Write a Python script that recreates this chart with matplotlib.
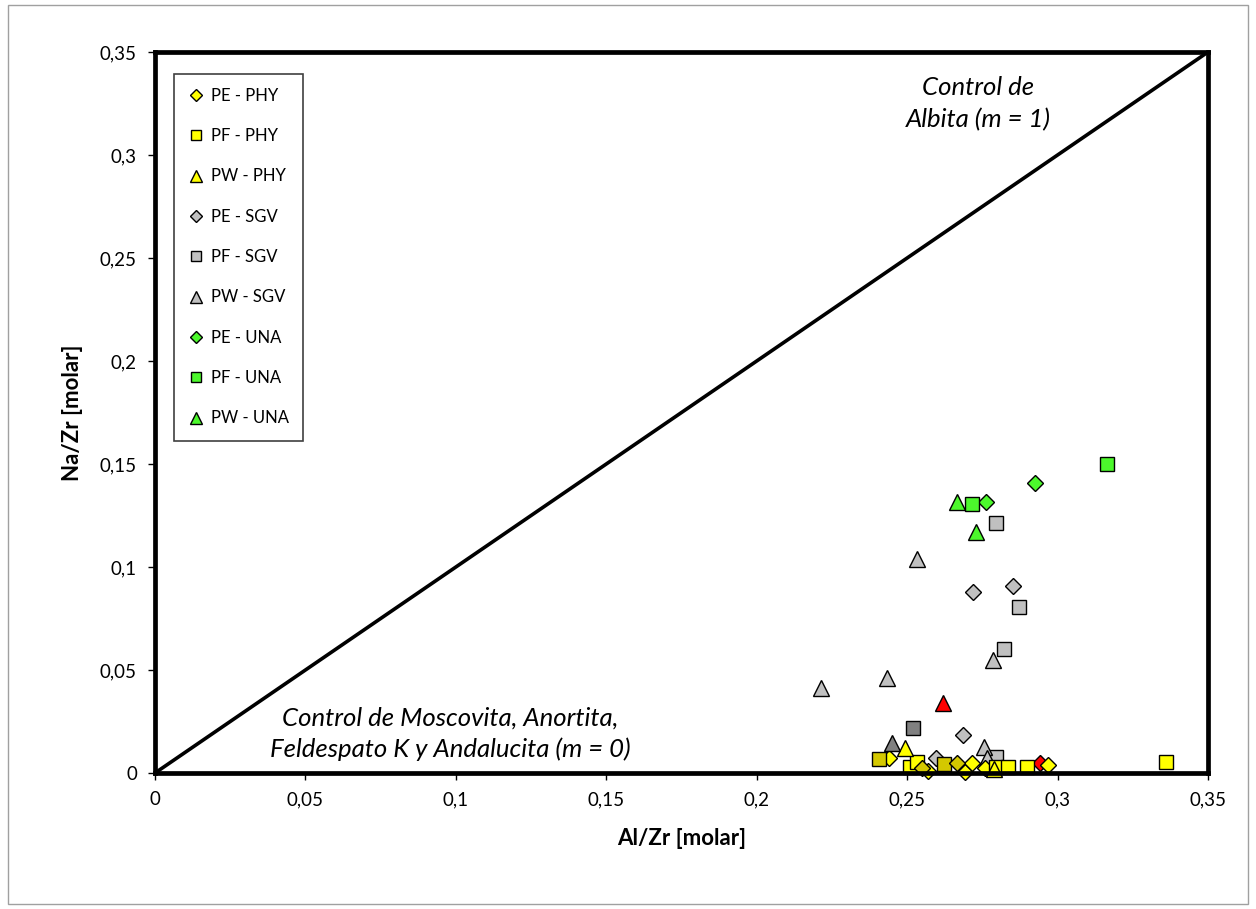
import matplotlib
matplotlib.use("Agg")
import matplotlib.pyplot as plt
from matplotlib.patches import Rectangle

plt.rcParams['font.family'] = ['Lato', 'DejaVu Sans']

# Series values (Al/Zr, Na/Zr), molar ratios
pe_phy_x = [0.2440, 0.2570, 0.2692, 0.2716, 0.2760, 0.2968]
pe_phy_y = [0.0073, 0.0010, 0.0005, 0.0049, 0.0024, 0.0039]
pf_phy_x = [0.2510, 0.2533, 0.2795, 0.2835, 0.2898, 0.3360]
pf_phy_y = [0.0030, 0.0053, 0.0030, 0.0030, 0.0030, 0.0055]
pw_phy_x = [0.2493, 0.2790]
pw_phy_y = [0.0121, 0.0020]

pe_sgv_x = [0.2719, 0.2852, 0.2686, 0.2596]
pe_sgv_y = [0.0880, 0.0910, 0.0184, 0.0073]
pf_sgv_x = [0.2795, 0.2872, 0.2822, 0.2795]
pf_sgv_y = [0.1214, 0.0806, 0.0602, 0.0078]
pw_sgv_x = [0.2533, 0.2785, 0.2433, 0.2214, 0.2756, 0.2765]
pw_sgv_y = [0.1039, 0.0549, 0.0461, 0.0413, 0.0126, 0.0073]

pe_una_x = [0.2925, 0.2762]
pe_una_y = [0.1408, 0.1316]
pf_una_x = [0.3164, 0.2716]
pf_una_y = [0.1500, 0.1306]
pw_una_x = [0.2666, 0.2729]
pw_una_y = [0.1316, 0.1170]

# extra points without legend entries
dk_phy_sq_x = [0.2407, 0.2622]
dk_phy_sq_y = [0.0068, 0.0044]
dk_phy_di_x = [0.2549, 0.2666]
dk_phy_di_y = [0.0024, 0.0049]
dk_sgv_sq_x = [0.2520]
dk_sgv_sq_y = [0.0218]
dk_sgv_tr_x = [0.2450]
dk_sgv_tr_y = [0.0146]
red_tr_x = [0.2619]
red_tr_y = [0.0340]
red_di_x = [0.2942]
red_di_y = [0.0049]

ticks = [0, 0.05, 0.1, 0.15, 0.2, 0.25, 0.3, 0.35]
tick_labels = ['0', '0,05', '0,1', '0,15', '0,2', '0,25', '0,3', '0,35']

YEL = '#FFFF00'
GRY = '#C0C0C0'
GRN = '#4CF82C'
DKY = '#D4C800'
DKG = '#808080'
RED = '#FF0000'

fig = plt.figure(figsize=(12.56, 9.09), dpi=100)
fig.patches.append(Rectangle((0.006, 0.005), 0.988, 0.99, transform=fig.transFigure,
                             fill=False, edgecolor='#A0A0A0', linewidth=1.0))
ax = fig.add_axes([0.1234, 0.1496, 0.8384, 0.7932])

# 1:1 line (albite control)
ax.plot([0, 0.35], [0, 0.35], color='black', linewidth=2.6, zorder=1)

styles = {'s': 10.5, 'D': 8.2, '^': 12}

def pts(x, y, m, c, label=None):
    return ax.plot(x, y, linestyle='none', marker=m, markersize=styles[m],
                   markerfacecolor=c, markeredgecolor='black', markeredgewidth=1.0,
                   clip_on=False, label=label, zorder=3)[0]

h = {}
h['PE - SGV'] = pts(pe_sgv_x, pe_sgv_y, 'D', GRY, 'PE - SGV')
h['PF - SGV'] = pts(pf_sgv_x, pf_sgv_y, 's', GRY, 'PF - SGV')
h['PW - SGV'] = pts(pw_sgv_x, pw_sgv_y, '^', GRY, 'PW - SGV')
h['PE - UNA'] = pts(pe_una_x, pe_una_y, 'D', GRN, 'PE - UNA')
h['PF - UNA'] = pts(pf_una_x, pf_una_y, 's', GRN, 'PF - UNA')
h['PW - UNA'] = pts(pw_una_x, pw_una_y, '^', GRN, 'PW - UNA')
pts(red_di_x, red_di_y, 'D', RED)
h['PE - PHY'] = pts(pe_phy_x, pe_phy_y, 'D', YEL, 'PE - PHY')
h['PF - PHY'] = pts(pf_phy_x, pf_phy_y, 's', YEL, 'PF - PHY')
h['PW - PHY'] = pts(pw_phy_x, pw_phy_y, '^', YEL, 'PW - PHY')
pts(dk_phy_sq_x, dk_phy_sq_y, 's', DKY)
pts(dk_phy_di_x, dk_phy_di_y, 'D', DKY)
pts(dk_sgv_sq_x, dk_sgv_sq_y, 's', DKG)
pts(dk_sgv_tr_x, dk_sgv_tr_y, '^', DKG)
pts(red_tr_x, red_tr_y, '^', RED)

order = ['PE - PHY', 'PF - PHY', 'PW - PHY', 'PE - SGV', 'PF - SGV', 'PW - SGV',
         'PE - UNA', 'PF - UNA', 'PW - UNA']
leg = ax.legend([h[k] for k in order], order, loc='upper left',
                bbox_to_anchor=(0.018, 0.97), fontsize=12, markerscale=0.7,
                labelspacing=1.46, handlelength=1.0, handletextpad=0.35,
                borderpad=0.85, borderaxespad=0, fancybox=False,
                edgecolor='#404040', framealpha=1)
leg.get_frame().set_linewidth(1.2)

ax.set_xlim(0, 0.35)
ax.set_ylim(0, 0.35)
ax.set_xticks(ticks)
ax.set_xticklabels(tick_labels)
ax.set_yticks(ticks)
ax.set_yticklabels(tick_labels)
ax.tick_params(direction='out', length=5, width=1, labelsize=13.5, pad=8)
for s in ax.spines.values():
    s.set_linewidth(3.4)
    s.set_zorder(4)

ax.set_xlabel('Al/Zr [molar]', fontsize=16, fontweight='bold', labelpad=14)
ax.set_ylabel('Na/Zr [molar]', fontsize=16, fontweight='bold', labelpad=12)

ax.text(0.098, 0.019, 'Control de Moscovita, Anortita,\nFeldespato K y Andalucita (m = 0)',
        ha='center', va='center', style='italic', fontsize=18.5, linespacing=1.36)
ax.text(0.2735, 0.325, 'Control de\nAlbita (m = 1)', ha='center', va='center',
        style='italic', fontsize=18.5, linespacing=1.45)

fig.savefig('out.png', dpi=100)
